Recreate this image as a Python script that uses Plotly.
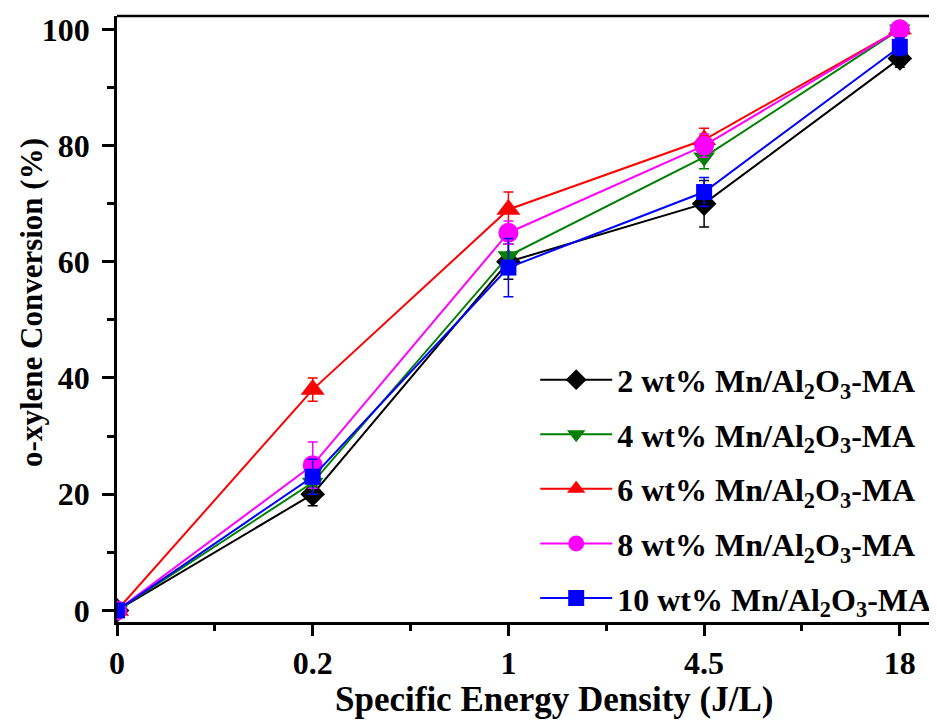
import plotly.graph_objects as go

categories = ["0", "0.2", "1", "4.5", "18"]
series_names = [
    "2 wt% Mn/Al<sub>2</sub>O<sub>3</sub>-MA",
    "4 wt% Mn/Al<sub>2</sub>O<sub>3</sub>-MA",
    "6 wt% Mn/Al<sub>2</sub>O<sub>3</sub>-MA",
    "8 wt% Mn/Al<sub>2</sub>O<sub>3</sub>-MA",
    "10 wt% Mn/Al<sub>2</sub>O<sub>3</sub>-MA",
]
conv_2 = [0, 20, 60, 70, 95]
conv_4 = [0, 22, 61, 78, 100]
conv_6 = [0, 38, 69, 81, 100]
conv_8 = [0, 25, 65, 80, 100]
conv_10 = [0, 23, 59, 72, 97]
err_2 = [0.5, 2, 3, 4, 1.5]
err_4 = [0.5, 2, 2, 2, 1]
err_6 = [0.5, 2, 3, 2, 1]
err_8 = [0.5, 4, 2, 2, 1]
err_10 = [0.5, 3, 5, 2.5, 1.5]

values = [conv_2, conv_4, conv_6, conv_8, conv_10]
errors = [err_2, err_4, err_6, err_8, err_10]
colors = ["#000000", "#008000", "#FF0000", "#FF00FF", "#0000FF"]
symbols = ["diamond", "triangle-down", "triangle-up", "circle", "square"]
sizes = [19, 19, 21, 20, 16]

xpos = list(range(len(categories)))
FONT = "Liberation Serif, Times New Roman, serif"

fig = go.Figure()
for i in range(5):
    fig.add_trace(go.Scatter(
        x=xpos, y=values[i], name=series_names[i],
        mode="lines+markers",
        line=dict(color=colors[i], width=2),
        marker=dict(symbol=symbols[i], size=sizes[i], color=colors[i]),
        error_y=dict(type="data", array=errors[i], color=colors[i], thickness=1.5, width=5),
        legendgroup=f"g{i}",
    ))

fig.update_layout(
    width=929, height=715,
    margin=dict(l=109, r=0, t=8, b=101, autoexpand=False),
    plot_bgcolor="white", paper_bgcolor="white",
    font=dict(family=FONT, size=28, color="black"),
    showlegend=True,
    legend=dict(
        x=0.51, y=0.445, xanchor="left", yanchor="top",
        bgcolor="rgba(0,0,0,0)",
        font=dict(family=FONT, size=32, color="black", weight="bold"),
        tracegroupgap=10,
        itemwidth=72,
    ),
)
fig.update_xaxes(
    range=[0, 4.19], automargin=False,
    tickvals=xpos, ticktext=[f"<b>{c}</b>" for c in categories],
    ticks="outside", ticklen=11, tickwidth=2.5, tickcolor="black",
    minor=dict(tickvals=[0.5, 1.5, 2.5, 3.5], ticks="outside", ticklen=6, tickwidth=2.5, tickcolor="black"),
    showline=True, linewidth=2.5, linecolor="black",
    showgrid=False, zeroline=False,
    tickfont=dict(family=FONT, size=32),
)
fig.update_yaxes(
    range=[-2, 102.3], automargin=False,
    tickvals=[0, 20, 40, 60, 80, 100],
    ticktext=["<b>0</b>", "<b>20</b>", "<b>40</b>", "<b>60</b>", "<b>80</b>", "<b>100</b>"],
    ticks="outside", ticklen=12, tickwidth=2.5, tickcolor="black",
    minor=dict(tickvals=[10, 30, 50, 70, 90], ticks="outside", ticklen=7, tickwidth=2.5, tickcolor="black"),
    showline=True, linewidth=2.5, linecolor="black",
    showgrid=False, zeroline=False,
    tickfont=dict(family=FONT, size=32),
    ticklabelstandoff=6,
)
fig.add_shape(type="line", xref="paper", yref="paper", x0=0, x1=1, y0=1, y1=1,
              line=dict(color="black", width=2.5))
fig.add_annotation(text="<b>Specific Energy Density (J/L)</b>", xref="paper", yref="paper",
                   x=0.533, y=-0.128, xanchor="center", yanchor="middle", showarrow=False,
                   font=dict(family=FONT, size=35))
fig.add_annotation(text="<b>o-xylene Conversion (%)</b>", xref="paper", yref="paper",
                   x=-0.105, y=0.528, xanchor="center", yanchor="middle", showarrow=False,
                   textangle=-90, font=dict(family=FONT, size=31))

fig.write_html("out.html")
